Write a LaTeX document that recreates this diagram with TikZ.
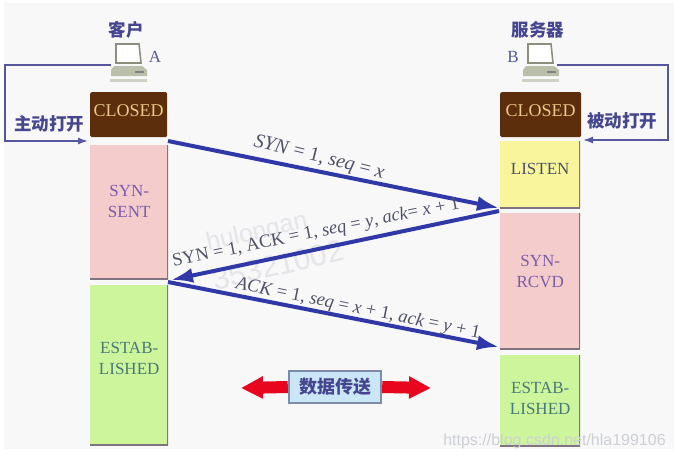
\documentclass[tikz,border=0pt]{standalone}
\usepackage{fontspec}
\setmainfont{Liberation Serif}
\setsansfont{Liberation Sans}
\newfontfamily\cjk{Noto Sans CJK SC}
\usetikzlibrary{arrows.meta}
\definecolor{panel}{HTML}{F8F8F9}
\definecolor{brownbox}{HTML}{5C2E0B}
\definecolor{closedtxt}{HTML}{E8C98A}
\definecolor{pinkbox}{HTML}{F5CCCC}
\definecolor{greenbox}{HTML}{CDF59B}
\definecolor{yellowbox}{HTML}{F8F59C}
\definecolor{edgegrey}{HTML}{7F7480}
\definecolor{arrowblue}{HTML}{3038A8}
\definecolor{loopblue}{HTML}{55579F}
\definecolor{purpletxt}{HTML}{7A5CA8}
\definecolor{greentxt}{HTML}{4A7A78}
\definecolor{cjkblue}{HTML}{45468F}
\definecolor{labelgrey}{HTML}{50506A}
\definecolor{wm}{HTML}{E4E4E9}
\definecolor{wmb}{HTML}{CDCFD6}
\definecolor{pcbody}{HTML}{B9BFA8}
\definecolor{datafill}{HTML}{CBE6F6}
\definecolor{dataedge}{HTML}{7E8CA8}
\definecolor{datared}{HTML}{E8061E}
\tikzset{
  x=1pt,y=-1pt,
  statebox/.style={minimum width=78pt,inner sep=0pt,align=center,font=\fontsize{17}{21}\selectfont,
     path picture={\draw[edgegrey,line width=2.4pt] (path picture bounding box.north east)--(path picture bounding box.south east)--(path picture bounding box.south west);}},
  closedbox/.style={statebox,fill=brownbox,text=closedtxt,rounded corners=1.5pt,path picture={},font=\fontsize{18}{20}\selectfont,text depth=8pt},
  pinkst/.style={statebox,fill=pinkbox,text=purpletxt},
  greenst/.style={statebox,fill=greenbox,text=greentxt},
  yellowst/.style={statebox,fill=yellowbox,text=labelgrey},
  cjklabel/.style={text=cjkblue,font=\cjk\fontsize{17.5}{20}\selectfont\bfseries,inner sep=0pt},
  hostletter/.style={text=loopblue,font=\fontsize{17}{19}\selectfont,inner sep=0pt},
  msgarrow/.style={arrowblue,line width=4pt,-{Latex[length=22pt,width=15pt]}},
  looparrow/.style={loopblue,line width=1.6pt,-{Latex[length=10pt,width=7pt]}},
  msglabel/.style={text=labelgrey,inner sep=0pt,font=\fontsize{18.5}{20}\selectfont},
  wmtext/.style={text=wm,inner sep=0pt,font=\sffamily\fontsize{25}{27}\selectfont},
  datarrow/.style={datared,line width=12pt,-{Triangle[length=22pt,width=21pt]}},
  databox/.style={draw=dataedge,line width=2.4pt,fill=datafill,minimum width=92pt,minimum height=32pt,inner sep=0pt,text=cjkblue,font=\cjk\fontsize{18}{20}\selectfont\bfseries},
}
\newcommand{\pcicon}[1]{%
  \begin{scope}[shift={(#1)}]
    \fill[white,draw=pcbody!75!black,line width=1.6pt] (-11,-7) -- (-11,-26) -- (12,-26) -- (14,-7) -- cycle;
    \fill[pcbody] (-13,-4) -- (15,-4) -- (20,0) -- (20,6) -- (-16,6) -- (-16,0) -- cycle;
    \fill[gray] (8,0.5) rectangle (17,3);
    \fill[pcbody!70!white] (-17,9) rectangle (20,12);
  \end{scope}}
\begin{document}
\begin{tikzpicture}
\useasboundingbox (0,0) rectangle (674,460);
\fill[white] (0,0) rectangle (674,460);
\fill[panel] (4,3) rectangle (674,449);
% watermarks
\node[wmtext,rotate=13] (wma) at (257,233) {hulongan};
\node[wmtext,rotate=13,font=\sffamily\fontsize{30}{32}\selectfont] (wmb) at (278,265) {35321002};
% state boxes
\node[closedbox,anchor=north west,minimum width=77pt,minimum height=45pt] (aclosed) at (90,92) {CLOSED};
\node[pinkst,anchor=north west,minimum height=134pt,text depth=22pt] (asent) at (90,145) {SYN-\\SENT};
\node[greenst,anchor=north west,minimum height=160pt,text depth=14pt] (aest) at (90,285) {ESTAB-\\LISHED};
\node[closedbox,anchor=north west,minimum width=81pt,minimum height=45pt] (bclosed) at (500,92) {CLOSED};
\node[yellowst,anchor=north west,minimum width=80pt,minimum height=67pt,text depth=12pt] (blisten) at (500,141) {LISTEN};
\node[pinkst,anchor=north west,minimum width=80pt,minimum height=136pt,text depth=20pt] (brcvd) at (500,213) {SYN-\\RCVD};
\node[greenst,anchor=north west,minimum width=80pt,minimum height=91pt,text depth=4pt] (best) at (500,355) {ESTAB-\\LISHED};
% computers
\coordinate (pca) at (127,70);
\coordinate (pcb) at (539,70);
\pcicon{pca}
\pcicon{pcb}
\node[cjklabel] (ka) at (126,30) {客户};
\node[cjklabel] (kb) at (538,30) {服务器};
\node[hostletter] (la) at (155,57) {A};
\node[hostletter] (lb) at (513,57) {B};
% open loops
\node[cjklabel] (opa) at (49,124) {主动打开};
\node[cjklabel] (opb) at (622,121) {被动打开};
\coordinate (laS) at (111,65);
\coordinate (laT) at (88,141);
\coordinate (lbS) at (557,65);
\coordinate (lbT) at (583,140);
\draw[looparrow] (laS) -- (5,65) -- (5,141) -- (laT);
\draw[looparrow] (lbS) -- (668,65) -- (668,140) -- (lbT);
% messages
\coordinate (m1s) at (168,141);
\coordinate (m1t) at (499,208);
\coordinate (m2s) at (499,211);
\coordinate (m2t) at (171,280);
\coordinate (m3s) at (168,282);
\coordinate (m3t) at (499,347);
\draw[msgarrow] (m1s) -- (m1t);
\draw[msgarrow] (m2s) -- (m2t);
\draw[msgarrow] (m3s) -- (m3t);
\node[msglabel,rotate=-14,font=\fontsize{20}{22}\selectfont] (t1) at (319,158) {\textit{SYN} = 1, \textit{seq} = \textit{x}};
\node[msglabel,rotate=11.5] (t2) at (316,233) {SYN = 1, ACK = 1, \textit{seq} = \textit{y}, \textit{ack}= \textit{x} + 1};
\node[msglabel,rotate=-11.5] (t3) at (358,309) {\textit{ACK} = 1, \textit{seq} = \textit{x} + 1, \textit{ack} = \textit{y} + 1};
% data transfer
\node[databox] (data) at (335,387) {数据传送};
\coordinate (dl) at (241,388);
\coordinate (dr) at (431,388);
\draw[datarrow] (data.west) -- (dl);
\draw[datarrow] (data.east) -- (dr);
% csdn mark
\node[text=wmb,inner sep=0pt,font=\sffamily\fontsize{16}{18}\selectfont] (src) at (554.5,441) {https://blog.csdn.net/hla199106};
\end{tikzpicture}
\end{document}
